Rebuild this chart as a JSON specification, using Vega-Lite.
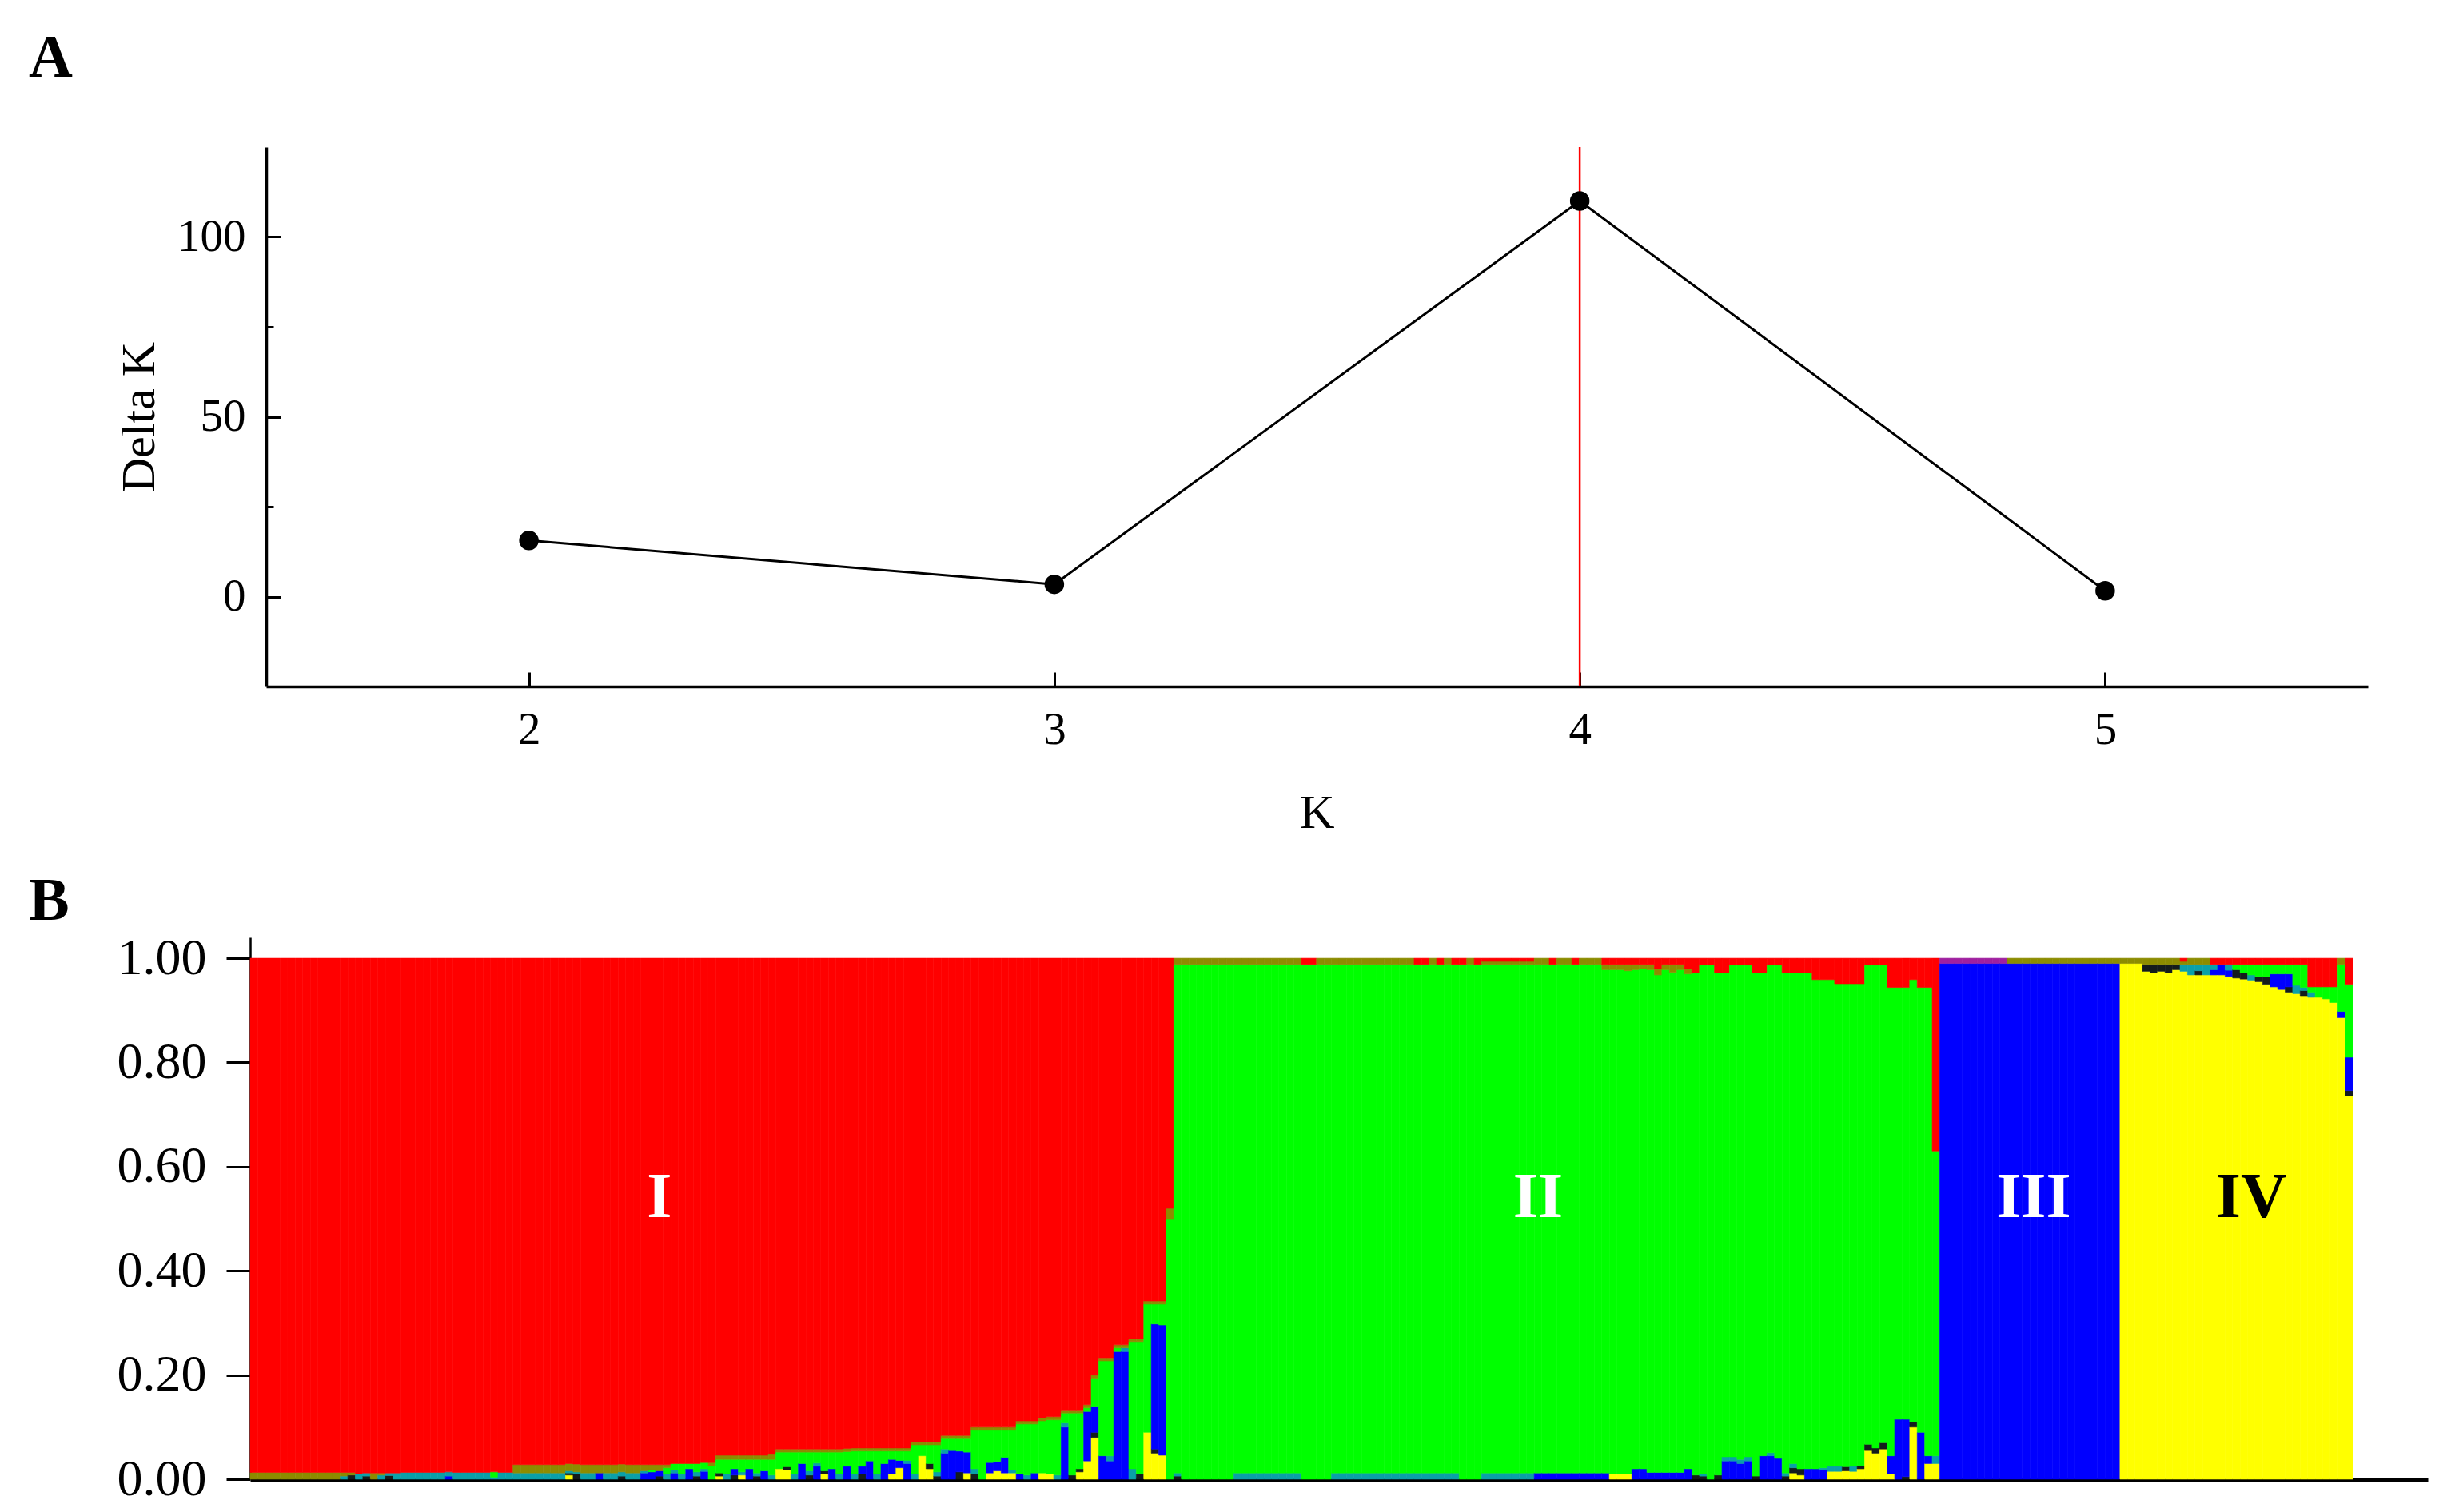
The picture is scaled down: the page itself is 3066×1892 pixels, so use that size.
{
  "$schema": "https://vega.github.io/schema/vega-lite/v6.json",
  "background": "white",
  "padding": {"left": 36, "top": 34, "right": 20, "bottom": 8},
  "config": {
    "font": "Liberation Serif",
    "view": {"stroke": null},
    "axis": {
      "grid": false,
      "domainColor": "black",
      "tickColor": "black",
      "labelColor": "black",
      "titleColor": "black",
      "labelFont": "Liberation Serif",
      "titleFont": "Liberation Serif",
      "titleFontWeight": "normal",
      "labelOverlap": false,
      "labelFlush": false,
      "zindex": 1
    },
    "title": {
      "font": "Liberation Serif",
      "fontWeight": "bold",
      "fontSize": 76,
      "color": "black",
      "anchor": "start",
      "frame": "group",
      "baseline": "alphabetic"
    }
  },
  "datasets": {
    "deltak": [
      {"K": 2, "dk": 15.6},
      {"K": 3, "dk": 3.4},
      {"K": 4, "dk": 110},
      {"K": 5, "dk": 1.6}
    ],
    "bestk": [{"K": 4}],
    "groups": [
      {"id": 55, "name": "I", "yv": 0.503},
      {"id": 172, "name": "II", "yv": 0.503},
      {"id": 238, "name": "III", "yv": 0.503},
      {"id": 267, "name": "IV", "yv": 0.503}
    ],
    "structure": [
      {"id":1,"c6":0.013,"c7":0.987},{"id":2,"c6":0.013,"c7":0.987},{"id":3,"c6":0.013,"c7":0.987},{"id":4,"c6":0.013,"c7":0.987},
      {"id":5,"c6":0.013,"c7":0.987},{"id":6,"c6":0.013,"c7":0.987},{"id":7,"c6":0.013,"c7":0.987},{"id":8,"c6":0.013,"c7":0.987},
      {"id":9,"c6":0.013,"c7":0.987},{"id":10,"c6":0.013,"c7":0.987},{"id":11,"c6":0.013,"c7":0.987},{"id":12,"c6":0.013,"c7":0.987},
      {"id":13,"c4":0.006,"c6":0.007,"c7":0.987},{"id":14,"c2":0.008,"c6":0.005,"c7":0.987},{"id":15,"c4":0.01,"c7":0.99},
      {"id":16,"c2":0.006,"c4":0.006,"c7":0.988},{"id":17,"c6":0.012,"c7":0.988},{"id":18,"c4":0.008,"c6":0.004,"c7":0.988},
      {"id":19,"c2":0.007,"c4":0.005,"c7":0.988},{"id":20,"c4":0.012,"c7":0.988},
      {"id":21,"c4":0.013,"c7":0.987},{"id":22,"c4":0.013,"c7":0.987},{"id":23,"c4":0.013,"c7":0.987},{"id":24,"c4":0.013,"c7":0.987},
      {"id":25,"c4":0.013,"c7":0.987},{"id":26,"c4":0.013,"c7":0.987},{"id":27,"c3":0.006,"c4":0.008,"c7":0.986},
      {"id":28,"c4":0.013,"c7":0.987},{"id":29,"c4":0.013,"c7":0.987},{"id":30,"c4":0.013,"c7":0.987},{"id":31,"c4":0.013,"c7":0.987},
      {"id":32,"c4":0.013,"c7":0.987},{"id":33,"c4":0.004,"c5":0.01,"c7":0.986},{"id":34,"c4":0.013,"c7":0.987},{"id":35,"c4":0.013,"c7":0.987},
      {"id":36,"c4":0.012,"c6":0.016,"c7":0.972},{"id":37,"c4":0.012,"c6":0.016,"c7":0.972},{"id":38,"c4":0.012,"c6":0.016,"c7":0.972},
      {"id":39,"c4":0.012,"c6":0.016,"c7":0.972},{"id":40,"c4":0.012,"c6":0.016,"c7":0.972},{"id":41,"c4":0.012,"c6":0.016,"c7":0.972},
      {"id":42,"c4":0.012,"c6":0.016,"c7":0.972},{"id":43,"c1":0.008,"c2":0.004,"c4":0.004,"c6":0.014,"c7":0.97},
      {"id":44,"c2":0.01,"c4":0.004,"c6":0.015,"c7":0.971},{"id":45,"c4":0.012,"c6":0.016,"c7":0.972},{"id":46,"c4":0.012,"c6":0.016,"c7":0.972},
      {"id":47,"c3":0.012,"c6":0.016,"c7":0.972},{"id":48,"c4":0.012,"c6":0.016,"c7":0.972},{"id":49,"c4":0.012,"c6":0.016,"c7":0.972},
      {"id":50,"c2":0.006,"c4":0.008,"c6":0.015,"c7":0.971},{"id":51,"c4":0.012,"c6":0.016,"c7":0.972},{"id":52,"c4":0.012,"c6":0.016,"c7":0.972},
      {"id":53,"c3":0.012,"c4":0.004,"c6":0.012,"c7":0.972},{"id":54,"c3":0.014,"c5":0.004,"c6":0.01,"c7":0.972},
      {"id":55,"c2":0.006,"c3":0.01,"c6":0.012,"c7":0.972},{"id":56,"c4":0.01,"c5":0.012,"c6":0.006,"c7":0.972},
      {"id":57,"c3":0.012,"c4":0.006,"c5":0.012,"c7":0.97},{"id":58,"c4":0.01,"c5":0.02,"c7":0.97},{"id":59,"c3":0.02,"c5":0.01,"c7":0.97},
      {"id":60,"c2":0.006,"c4":0.008,"c5":0.016,"c7":0.97},{"id":61,"c3":0.015,"c4":0.005,"c5":0.012,"c7":0.968},{"id":62,"c5":0.026,"c6":0.006,"c7":0.968},
      {"id":63,"c1":0.006,"c2":0.006,"c5":0.026,"c6":0.008,"c7":0.954},{"id":64,"c4":0.01,"c5":0.028,"c6":0.008,"c7":0.954},
      {"id":65,"c2":0.008,"c3":0.012,"c5":0.018,"c6":0.008,"c7":0.954},{"id":66,"c1":0.008,"c4":0.006,"c5":0.024,"c6":0.008,"c7":0.954},
      {"id":67,"c3":0.02,"c5":0.018,"c6":0.008,"c7":0.954},{"id":68,"c2":0.006,"c4":0.006,"c5":0.026,"c6":0.008,"c7":0.954},
      {"id":69,"c3":0.016,"c5":0.022,"c6":0.008,"c7":0.954},{"id":70,"c4":0.008,"c5":0.03,"c6":0.01,"c7":0.952},
      {"id":71,"c1":0.02,"c5":0.032,"c6":0.006,"c7":0.942},{"id":72,"c1":0.018,"c2":0.006,"c5":0.028,"c6":0.006,"c7":0.942},
      {"id":73,"c4":0.01,"c5":0.042,"c6":0.006,"c7":0.942},{"id":74,"c3":0.03,"c5":0.022,"c6":0.006,"c7":0.942},
      {"id":75,"c2":0.008,"c4":0.008,"c5":0.036,"c6":0.006,"c7":0.942},{"id":76,"c3":0.025,"c4":0.006,"c5":0.021,"c6":0.006,"c7":0.942},
      {"id":77,"c1":0.01,"c2":0.006,"c5":0.036,"c6":0.006,"c7":0.942},{"id":78,"c3":0.02,"c5":0.032,"c6":0.006,"c7":0.942},
      {"id":79,"c4":0.01,"c5":0.042,"c6":0.006,"c7":0.942},{"id":80,"c3":0.025,"c5":0.028,"c6":0.006,"c7":0.941},
      {"id":81,"c4":0.01,"c5":0.044,"c6":0.006,"c7":0.94},{"id":82,"c2":0.01,"c3":0.015,"c5":0.029,"c6":0.006,"c7":0.94},
      {"id":83,"c3":0.035,"c5":0.019,"c6":0.006,"c7":0.94},{"id":84,"c4":0.01,"c5":0.044,"c6":0.006,"c7":0.94},
      {"id":85,"c3":0.03,"c5":0.024,"c6":0.006,"c7":0.94},{"id":86,"c1":0.01,"c3":0.028,"c5":0.016,"c6":0.006,"c7":0.94},
      {"id":87,"c1":0.022,"c3":0.014,"c5":0.018,"c6":0.006,"c7":0.94},{"id":88,"c3":0.03,"c4":0.006,"c5":0.018,"c6":0.006,"c7":0.94},
      {"id":89,"c4":0.01,"c5":0.056,"c6":0.006,"c7":0.928},{"id":90,"c1":0.045,"c5":0.021,"c6":0.006,"c7":0.928},
      {"id":91,"c1":0.02,"c2":0.01,"c5":0.036,"c6":0.006,"c7":0.928},{"id":92,"c2":0.006,"c4":0.008,"c5":0.052,"c6":0.006,"c7":0.928},
      {"id":93,"c3":0.05,"c4":0.008,"c5":0.02,"c6":0.006,"c7":0.916},{"id":94,"c3":0.055,"c5":0.023,"c6":0.006,"c7":0.916},
      {"id":95,"c2":0.014,"c3":0.04,"c5":0.024,"c6":0.006,"c7":0.916},{"id":96,"c1":0.012,"c3":0.04,"c5":0.026,"c6":0.006,"c7":0.916},
      {"id":97,"c2":0.01,"c4":0.01,"c5":0.074,"c6":0.006,"c7":0.9},{"id":98,"c5":0.094,"c6":0.006,"c7":0.9},
      {"id":99,"c1":0.012,"c3":0.02,"c5":0.062,"c6":0.006,"c7":0.9},{"id":100,"c1":0.016,"c3":0.018,"c5":0.06,"c6":0.006,"c7":0.9},
      {"id":101,"c1":0.012,"c3":0.03,"c5":0.052,"c6":0.006,"c7":0.9},{"id":102,"c1":0.012,"c4":0.006,"c5":0.076,"c6":0.006,"c7":0.9},
      {"id":103,"c3":0.01,"c5":0.096,"c6":0.006,"c7":0.888},{"id":104,"c4":0.008,"c5":0.098,"c6":0.006,"c7":0.888},
      {"id":105,"c3":0.012,"c5":0.094,"c6":0.006,"c7":0.888},{"id":106,"c1":0.012,"c5":0.1,"c6":0.006,"c7":0.882},
      {"id":107,"c1":0.01,"c5":0.104,"c6":0.006,"c7":0.88},{"id":108,"c4":0.008,"c5":0.106,"c6":0.006,"c7":0.88},
      {"id":109,"c3":0.1,"c4":0.008,"c5":0.019,"c6":0.006,"c7":0.867},{"id":110,"c2":0.008,"c5":0.119,"c6":0.006,"c7":0.867},
      {"id":111,"c1":0.014,"c2":0.006,"c5":0.107,"c6":0.006,"c7":0.867},{"id":112,"c1":0.035,"c3":0.095,"c5":0.007,"c6":0.006,"c7":0.857},
      {"id":113,"c1":0.08,"c2":0.01,"c3":0.05,"c5":0.054,"c6":0.006,"c7":0.8},{"id":114,"c3":0.045,"c5":0.182,"c6":0.006,"c7":0.767},
      {"id":115,"c3":0.035,"c4":0.01,"c5":0.182,"c6":0.006,"c7":0.767},{"id":116,"c3":0.245,"c5":0.007,"c6":0.006,"c7":0.742},
      {"id":117,"c3":0.245,"c4":0.007,"c6":0.006,"c7":0.742},{"id":118,"c4":0.02,"c5":0.244,"c6":0.006,"c7":0.73},
      {"id":119,"c2":0.01,"c5":0.254,"c6":0.006,"c7":0.73},{"id":120,"c1":0.09,"c5":0.246,"c6":0.006,"c7":0.658},
      {"id":121,"c1":0.05,"c2":0.008,"c3":0.24,"c5":0.038,"c6":0.006,"c7":0.658},{"id":122,"c1":0.046,"c3":0.25,"c5":0.04,"c6":0.006,"c7":0.658},
      {"id":123,"c5":0.5,"c6":0.02,"c7":0.48},
      {"id":124,"c2":0.006,"c4":0.006,"c5":0.976,"c6":0.012},
      {"id":125,"c5":0.988,"c6":0.012},{"id":126,"c5":0.988,"c6":0.012},{"id":127,"c5":0.988,"c6":0.012},{"id":128,"c5":0.988,"c6":0.012},
      {"id":129,"c5":0.988,"c6":0.012},{"id":130,"c5":0.988,"c6":0.012},{"id":131,"c5":0.988,"c6":0.012},
      {"id":132,"c4":0.012,"c5":0.976,"c6":0.012},{"id":133,"c4":0.012,"c5":0.976,"c6":0.012},{"id":134,"c4":0.012,"c5":0.976,"c6":0.012},
      {"id":135,"c4":0.012,"c5":0.976,"c6":0.012},{"id":136,"c4":0.012,"c5":0.976,"c6":0.012},{"id":137,"c4":0.012,"c5":0.976,"c6":0.012},
      {"id":138,"c4":0.012,"c5":0.976,"c6":0.012},{"id":139,"c4":0.012,"c5":0.976,"c6":0.012},{"id":140,"c4":0.012,"c5":0.976,"c6":0.012},
      {"id":141,"c5":0.988,"c7":0.012},{"id":142,"c5":0.988,"c7":0.012},{"id":143,"c5":0.988,"c6":0.012},{"id":144,"c5":0.988,"c6":0.012},
      {"id":145,"c4":0.012,"c5":0.976,"c6":0.012},{"id":146,"c4":0.012,"c5":0.976,"c6":0.012},{"id":147,"c4":0.012,"c5":0.976,"c6":0.012},
      {"id":148,"c4":0.012,"c5":0.976,"c6":0.012},{"id":149,"c4":0.012,"c5":0.976,"c6":0.012},{"id":150,"c4":0.012,"c5":0.976,"c6":0.012},
      {"id":151,"c4":0.012,"c5":0.976,"c6":0.012},{"id":152,"c4":0.012,"c5":0.976,"c6":0.012},{"id":153,"c4":0.012,"c5":0.976,"c6":0.012},
      {"id":154,"c4":0.012,"c5":0.976,"c6":0.012},{"id":155,"c4":0.012,"c5":0.976,"c6":0.012},
      {"id":156,"c4":0.012,"c5":0.976,"c7":0.012},{"id":157,"c4":0.012,"c5":0.976,"c7":0.012},{"id":158,"c4":0.012,"c5":0.976,"c6":0.012},
      {"id":159,"c4":0.012,"c5":0.976,"c7":0.012},{"id":160,"c4":0.012,"c5":0.976,"c6":0.012},{"id":161,"c4":0.012,"c5":0.976,"c7":0.012},
      {"id":162,"c5":0.988,"c7":0.012},{"id":163,"c5":0.988,"c6":0.012},{"id":164,"c5":0.988,"c7":0.012},
      {"id":165,"c4":0.012,"c5":0.976,"c6":0.006,"c7":0.006},{"id":166,"c4":0.012,"c5":0.976,"c6":0.006,"c7":0.006},
      {"id":167,"c4":0.012,"c5":0.976,"c6":0.006,"c7":0.006},{"id":168,"c4":0.012,"c5":0.976,"c6":0.006,"c7":0.006},
      {"id":169,"c4":0.012,"c5":0.976,"c6":0.006,"c7":0.006},{"id":170,"c4":0.012,"c5":0.976,"c6":0.006,"c7":0.006},
      {"id":171,"c4":0.012,"c5":0.976,"c6":0.006,"c7":0.006},
      {"id":172,"c3":0.012,"c5":0.976,"c6":0.012},{"id":173,"c3":0.012,"c5":0.976,"c6":0.012},{"id":174,"c3":0.012,"c5":0.976,"c7":0.012},
      {"id":175,"c3":0.012,"c5":0.976,"c6":0.012},{"id":176,"c3":0.012,"c5":0.976,"c6":0.012},{"id":177,"c3":0.012,"c5":0.976,"c7":0.012},
      {"id":178,"c3":0.012,"c5":0.976,"c6":0.012},{"id":179,"c3":0.012,"c5":0.976,"c6":0.012},{"id":180,"c3":0.012,"c5":0.976,"c6":0.012},
      {"id":181,"c3":0.012,"c5":0.966,"c6":0.01,"c7":0.012},{"id":182,"c1":0.01,"c5":0.968,"c6":0.01,"c7":0.012},
      {"id":183,"c1":0.01,"c5":0.968,"c6":0.01,"c7":0.012},{"id":184,"c1":0.01,"c5":0.966,"c6":0.012,"c7":0.012},
      {"id":185,"c3":0.02,"c5":0.958,"c6":0.01,"c7":0.012},{"id":186,"c3":0.02,"c5":0.96,"c6":0.008,"c7":0.012},
      {"id":187,"c3":0.013,"c5":0.965,"c6":0.01,"c7":0.012},{"id":188,"c3":0.013,"c5":0.955,"c6":0.012,"c7":0.02},
      {"id":189,"c3":0.013,"c5":0.965,"c6":0.01,"c7":0.012},{"id":190,"c3":0.013,"c5":0.96,"c6":0.015,"c7":0.012},
      {"id":191,"c3":0.013,"c5":0.965,"c6":0.01,"c7":0.012},{"id":192,"c3":0.02,"c5":0.95,"c6":0.01,"c7":0.02},
      {"id":193,"c2":0.008,"c5":0.964,"c7":0.028},{"id":194,"c2":0.006,"c4":0.004,"c5":0.977,"c7":0.013},
      {"id":195,"c5":0.987,"c7":0.013},{"id":196,"c2":0.008,"c5":0.964,"c7":0.028},
      {"id":197,"c3":0.035,"c4":0.008,"c5":0.929,"c7":0.028},{"id":198,"c3":0.035,"c4":0.008,"c5":0.944,"c7":0.013},
      {"id":199,"c3":0.03,"c4":0.008,"c5":0.949,"c7":0.013},{"id":200,"c3":0.035,"c4":0.008,"c5":0.944,"c7":0.013},
      {"id":201,"c2":0.006,"c5":0.966,"c7":0.028},{"id":202,"c3":0.045,"c5":0.927,"c7":0.028},
      {"id":203,"c3":0.045,"c4":0.006,"c5":0.936,"c7":0.013},{"id":204,"c3":0.04,"c5":0.947,"c7":0.013},
      {"id":205,"c2":0.006,"c4":0.006,"c5":0.96,"c7":0.028},{"id":206,"c1":0.012,"c2":0.01,"c4":0.008,"c5":0.942,"c7":0.028},
      {"id":207,"c1":0.008,"c2":0.012,"c5":0.952,"c7":0.028},{"id":208,"c3":0.02,"c5":0.952,"c7":0.028},
      {"id":209,"c3":0.02,"c5":0.939,"c7":0.041},{"id":210,"c3":0.018,"c4":0.004,"c5":0.937,"c7":0.041},
      {"id":211,"c1":0.015,"c4":0.01,"c5":0.934,"c7":0.041},{"id":212,"c1":0.015,"c4":0.01,"c5":0.926,"c7":0.049},
      {"id":213,"c1":0.016,"c2":0.008,"c5":0.927,"c7":0.049},{"id":214,"c1":0.015,"c4":0.01,"c5":0.926,"c7":0.049},
      {"id":215,"c1":0.02,"c2":0.006,"c5":0.925,"c7":0.049},{"id":216,"c1":0.055,"c2":0.012,"c5":0.92,"c7":0.013},
      {"id":217,"c1":0.05,"c2":0.01,"c5":0.927,"c7":0.013},{"id":218,"c1":0.058,"c2":0.012,"c5":0.917,"c7":0.013},
      {"id":219,"c1":0.01,"c3":0.035,"c5":0.899,"c7":0.056},{"id":220,"c3":0.115,"c5":0.829,"c7":0.056},
      {"id":221,"c2":0.005,"c3":0.11,"c5":0.829,"c7":0.056},{"id":222,"c1":0.1,"c2":0.01,"c5":0.849,"c7":0.041},
      {"id":223,"c3":0.09,"c5":0.854,"c7":0.056},{"id":224,"c1":0.03,"c3":0.015,"c5":0.899,"c7":0.056},
      {"id":225,"c1":0.03,"c4":0.015,"c5":0.585,"c7":0.37},
      {"id":226,"c3":0.99,"c8":0.01},{"id":227,"c3":0.99,"c8":0.01},{"id":228,"c3":0.99,"c8":0.01},{"id":229,"c3":0.99,"c8":0.01},
      {"id":230,"c3":0.99,"c8":0.01},{"id":231,"c3":0.99,"c8":0.01},{"id":232,"c3":0.99,"c8":0.01},{"id":233,"c3":0.99,"c8":0.01},
      {"id":234,"c3":0.99,"c8":0.01},{"id":235,"c3":0.99,"c6":0.01},{"id":236,"c3":0.99,"c6":0.01},{"id":237,"c3":0.99,"c6":0.01},
      {"id":238,"c3":0.99,"c6":0.01},{"id":239,"c3":0.99,"c6":0.01},{"id":240,"c3":0.99,"c6":0.01},{"id":241,"c3":0.99,"c6":0.01},
      {"id":242,"c3":0.99,"c6":0.01},{"id":243,"c3":0.99,"c6":0.01},{"id":244,"c3":0.99,"c6":0.01},{"id":245,"c3":0.99,"c6":0.01},
      {"id":246,"c3":0.99,"c6":0.01},{"id":247,"c3":0.99,"c6":0.01},{"id":248,"c3":0.99,"c6":0.01},{"id":249,"c3":0.99,"c6":0.01},
      {"id":250,"c1":0.99,"c6":0.01},{"id":251,"c1":0.99,"c6":0.01},{"id":252,"c1":0.99,"c6":0.01},
      {"id":253,"c1":0.975,"c2":0.013,"c6":0.012},{"id":254,"c1":0.972,"c2":0.016,"c6":0.012},{"id":255,"c1":0.975,"c2":0.013,"c6":0.012},
      {"id":256,"c1":0.972,"c2":0.016,"c6":0.012},{"id":257,"c1":0.978,"c2":0.01,"c6":0.012},
      {"id":258,"c1":0.975,"c4":0.013,"c6":0.006,"c7":0.006},{"id":259,"c1":0.968,"c4":0.02,"c6":0.012},
      {"id":260,"c1":0.968,"c2":0.008,"c4":0.012,"c6":0.012},{"id":261,"c1":0.968,"c4":0.02,"c6":0.012},
      {"id":262,"c1":0.968,"c3":0.01,"c4":0.01,"c7":0.012},{"id":263,"c1":0.968,"c3":0.02,"c7":0.012},
      {"id":264,"c1":0.965,"c3":0.012,"c4":0.011,"c7":0.012},{"id":265,"c1":0.962,"c2":0.016,"c5":0.01,"c7":0.012},
      {"id":266,"c1":0.96,"c2":0.012,"c5":0.016,"c7":0.012},{"id":267,"c1":0.958,"c4":0.01,"c5":0.02,"c7":0.012},
      {"id":268,"c1":0.955,"c2":0.01,"c5":0.023,"c7":0.012},{"id":269,"c1":0.95,"c2":0.015,"c5":0.023,"c7":0.012},
      {"id":270,"c1":0.945,"c3":0.025,"c5":0.018,"c7":0.012},{"id":271,"c1":0.94,"c3":0.03,"c5":0.018,"c7":0.012},
      {"id":272,"c1":0.935,"c2":0.01,"c3":0.025,"c5":0.018,"c7":0.012},{"id":273,"c1":0.932,"c4":0.016,"c5":0.04,"c7":0.012},
      {"id":274,"c1":0.928,"c2":0.01,"c4":0.006,"c5":0.044,"c7":0.012},{"id":275,"c1":0.925,"c4":0.01,"c5":0.01,"c7":0.055},
      {"id":276,"c1":0.925,"c5":0.02,"c7":0.055},{"id":277,"c1":0.922,"c5":0.023,"c7":0.055},{"id":278,"c1":0.915,"c5":0.03,"c7":0.055},
      {"id":279,"c1":0.886,"c3":0.012,"c5":0.09,"c6":0.012},{"id":280,"c1":0.736,"c2":0.01,"c3":0.064,"c5":0.14,"c7":0.05}
    ]
  },
  "columns": 1,
  "spacing": 43,
  "concat": [
    {
      "title": {"text": "A", "dx": -297, "offset": 71},
      "width": 2629,
      "height": 675,
      "data": {"name": "deltak"},
      "encoding": {
        "x": {
          "field": "K",
          "type": "quantitative",
          "scale": {"domain": [1.5, 5.5], "nice": false, "zero": false},
          "axis": {
            "values": [2, 2.5, 3, 3.5, 4, 4.5, 5, 5.5],
            "format": "d",
            "labelExpr": "datum.value % 1 === 0 ? datum.label : ''",
            "tickSize": {"condition": {"test": "datum.value % 1 === 0", "value": -18}, "value": -9},
            "tickWidth": 3,
            "domainWidth": 3.5,
            "labelFontSize": 57,
            "labelPadding": 44,
            "title": "K",
            "titleFontSize": 60,
            "titlePadding": 49,
            "minExtent": 80,
            "maxExtent": 80
          }
        }
      },
      "layer": [
        {
          "data": {"name": "bestk"},
          "mark": {"type": "rule", "color": "#ff0000", "strokeWidth": 2.5},
          "encoding": {}
        },
        {
          "mark": {"type": "line", "color": "black", "strokeWidth": 3},
          "encoding": {
            "y": {
              "field": "dk",
              "type": "quantitative",
              "scale": {"domain": [-25, 125], "nice": false, "zero": false},
              "axis": {
                "values": [0, 25, 50, 75, 100],
                "labelExpr": "datum.value % 50 === 0 ? datum.label : ''",
                "tickSize": {"condition": {"test": "datum.value % 50 === 0", "value": -18}, "value": -9},
                "tickWidth": 3,
                "domainWidth": 3.5,
                "labelFontSize": 57,
                "labelPadding": 44,
                "title": "Delta K",
                "titleFontSize": 60,
                "titlePadding": 18,
                "minExtent": 110,
                "maxExtent": 110
              }
            }
          }
        },
        {
          "mark": {"type": "point", "filled": true, "color": "black", "size": 600, "opacity": 1},
          "encoding": {
            "y": {"field": "dk", "type": "quantitative"}
          }
        }
      ]
    },
    {
      "title": {"text": "B", "dx": -297, "offset": 0},
      "width": 2704,
      "height": 678,
      "encoding": {
        "x": {
          "field": "id",
          "type": "ordinal",
          "scale": {
            "domain": [1,2,3,4,5,6,7,8,9,10,11,12,13,14,15,16,17,18,19,20,21,22,23,24,25,26,27,28,29,30,31,32,33,34,35,36,37,38,39,40,41,42,43,44,45,46,47,48,49,50,51,52,53,54,55,56,57,58,59,60,61,62,63,64,65,66,67,68,69,70,71,72,73,74,75,76,77,78,79,80,81,82,83,84,85,86,87,88,89,90,91,92,93,94,95,96,97,98,99,100,101,102,103,104,105,106,107,108,109,110,111,112,113,114,115,116,117,118,119,120,121,122,123,124,125,126,127,128,129,130,131,132,133,134,135,136,137,138,139,140,141,142,143,144,145,146,147,148,149,150,151,152,153,154,155,156,157,158,159,160,161,162,163,164,165,166,167,168,169,170,171,172,173,174,175,176,177,178,179,180,181,182,183,184,185,186,187,188,189,190,191,192,193,194,195,196,197,198,199,200,201,202,203,204,205,206,207,208,209,210,211,212,213,214,215,216,217,218,219,220,221,222,223,224,225,226,227,228,229,230,231,232,233,234,235,236,237,238,239,240,241,242,243,244,245,246,247,248,249,250,251,252,253,254,255,256,257,258,259,260,261,262,263,264,265,266,267,268,269,270,271,272,273,274,275,276,277,278,279,280,281,282,283,284,285,286,287,288,289,290],
            "range": [-20, 2704],
            "paddingInner": 0,
            "paddingOuter": 0
          },
          "axis": {
            "title": null,
            "labels": false,
            "ticks": false,
            "domainWidth": 5,
            "domainColor": "black"
          }
        }
      },
      "layer": [
        {
          "data": {"name": "structure"},
          "transform": [
            {"fold": ["c1", "c2", "c3", "c4", "c5", "c6", "c7", "c8"], "as": ["cluster", "q"]},
            {"filter": "isValid(datum.q) && datum.q > 0"}
          ],
          "mark": {"type": "bar", "strokeWidth": 0.6},
          "encoding": {
            "y": {
              "field": "q",
              "type": "quantitative",
              "stack": "zero",
              "scale": {"domain": [0, 1.04], "nice": false},
              "axis": {
                "values": [0, 0.2, 0.4, 0.6, 0.8, 1],
                "format": ".2f",
                "offset": 20,
                "tickSize": 30,
                "tickWidth": 3,
                "domainWidth": 2.5,
                "labelFontSize": 64,
                "labelPadding": 25,
                "title": null
              }
            },
            "color": {
              "field": "cluster",
              "type": "nominal",
              "scale": {
                "domain": ["c1", "c2", "c3", "c4", "c5", "c6", "c7", "c8"],
                "range": ["#ffff00", "#141c1c", "#0000ff", "#0aa0a8", "#00ff00", "#8c8c00", "#ff0000", "#a020a0"]
              },
              "legend": null
            },
            "stroke": {
              "field": "cluster",
              "type": "nominal",
              "scale": {
                "domain": ["c1", "c2", "c3", "c4", "c5", "c6", "c7", "c8"],
                "range": ["#ffff00", "#141c1c", "#0000ff", "#0aa0a8", "#00ff00", "#8c8c00", "#ff0000", "#a020a0"]
              },
              "legend": null
            },
            "order": {"field": "cluster", "sort": "ascending"}
          }
        },
        {
          "data": {"name": "groups"},
          "mark": {"type": "text", "font": "Liberation Serif", "fontSize": 80, "fontWeight": "bold", "baseline": "alphabetic", "align": "center"},
          "encoding": {
            "y": {"field": "yv", "type": "quantitative"},
            "text": {"field": "name"},
            "color": {"condition": {"test": "datum.name === 'IV'", "value": "black"}, "value": "white"}
          }
        }
      ]
    }
  ]
}
